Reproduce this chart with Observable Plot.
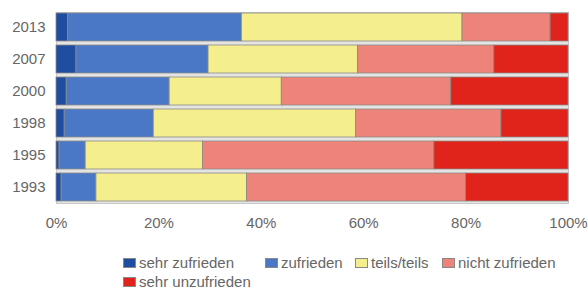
<!DOCTYPE html>
<html><head><meta charset="utf-8">
<script src="https://cdn.jsdelivr.net/npm/d3@7"></script>
<script src="https://cdn.jsdelivr.net/npm/@observablehq/plot@0.6"></script>
<style>
body{margin:0;background:#fff;font-family:"Liberation Sans",Arial,sans-serif;overflow:hidden;}
#legend{position:relative;width:588px;height:51px;font-size:15px;color:#666;}
.item{position:absolute;display:flex;align-items:center;white-space:nowrap;line-height:15px;}
.sw{width:13px;height:10px;margin-right:3px;border:1px solid #888;box-sizing:border-box;}
</style></head><body>
<div id="chart"></div>
<div id="legend"></div>
<script>
const years = ["2013","2007","2000","1998","1995","1993"];
const categories = ["sehr zufrieden","zufrieden","teils/teils","nicht zufrieden","sehr unzufrieden"];
const colors = ["#1f4ea0","#4a78c6","#f5ee8c","#ee8379","#e0241b"];
const sehrZufrieden   = [2.3, 3.9, 2.0, 1.6, 0.6, 1.0];
const zufrieden       = [33.9, 25.8, 20.1, 17.4, 5.1, 6.8];
const teilsTeils      = [43.1, 29.2, 21.9, 39.5, 22.9, 29.4];
const nichtZufrieden  = [17.2, 26.6, 33.1, 28.4, 45.2, 42.8];
const sehrUnzufrieden = [3.5, 14.5, 22.9, 13.1, 26.2, 20.0];
const xTicks = [0, 20, 40, 60, 80, 100];

const series = [sehrZufrieden, zufrieden, teilsTeils, nichtZufrieden, sehrUnzufrieden];
const data = [];
years.forEach((y, i) => categories.forEach((c, j) => data.push({year: y, cat: c, value: series[j][i]})));

const chart = Plot.plot({
  width: 588, height: 240,
  marginLeft: 56, marginRight: 20, marginTop: 12, marginBottom: 37,
  style: {fontFamily: "Liberation Sans, Arial, sans-serif", fontSize: "15px", color: "#666", background: "#fff"},
  x: {domain: [0, 100], ticks: xTicks, tickFormat: d => d + "%", tickSize: 0, tickPadding: 14, label: null},
  y: {domain: years, label: null, tickSize: 0, tickPadding: 11, paddingInner: 0.12, paddingOuter: 0.02},
  color: {domain: categories, range: colors},
  marks: [
    Plot.frame({fill: "#e4e4e2", stroke: "#c8c8c8"}),
    Plot.barX(data, Plot.stackX({x: "value", y: "year", fill: "cat", order: categories, stroke: "#8a8a8a", strokeWidth: 0.8}))
  ]
});
document.getElementById("chart").appendChild(chart);

const legend = document.getElementById("legend");
const pos = [[123, 15], [265, 15], [355, 15], [442, 15], [123, 34]];
categories.forEach((c, i) => {
  const d = document.createElement("div");
  d.className = "item";
  d.style.left = pos[i][0] + "px";
  d.style.top = pos[i][1] + "px";
  d.innerHTML = `<span class="sw" style="background:${colors[i]}"></span>${c}`;
  legend.appendChild(d);
});
</script>
</body></html>
